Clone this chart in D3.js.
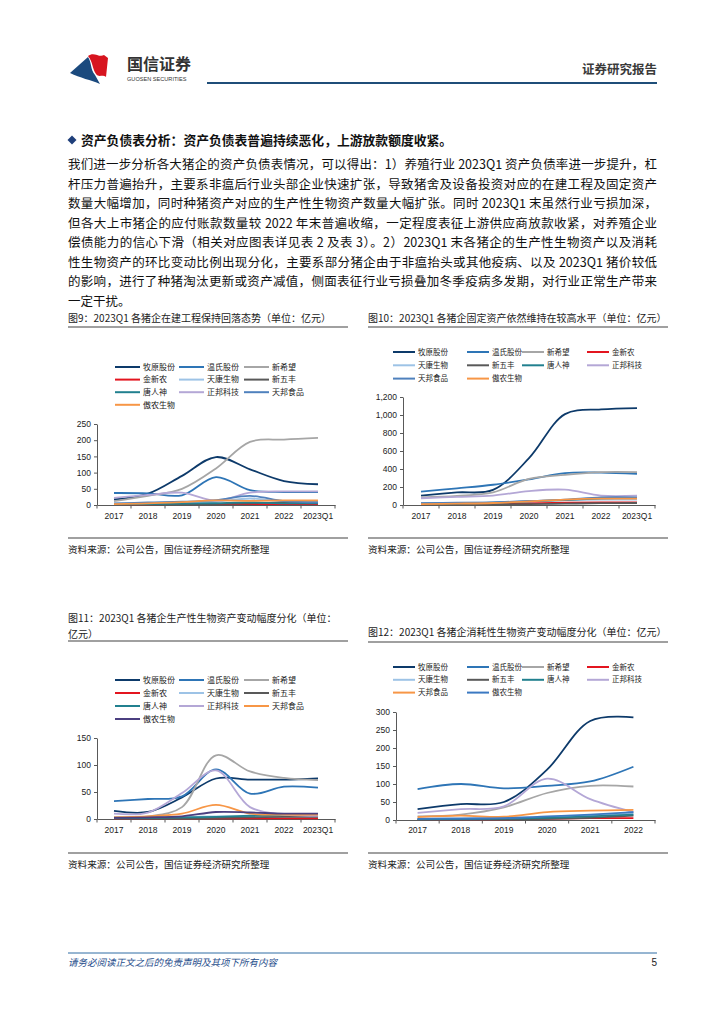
<!DOCTYPE html>
<html>
<head>
<meta charset="utf-8">
<script src="https://cdn.jsdelivr.net/npm/d3@7"></script>
<style>
  body { margin: 0; background: #fff; }
  #page { position: relative; width: 724px; height: 1024px; overflow: hidden;
          font-family: "Noto Sans CJK SC", "Noto Sans", sans-serif; }
  #page svg { position: absolute; left: 0; top: 0; }
  .para { position: absolute; left: 68px; width: 589px; font-size: 12.5px; color: #111; }
  .para div { height: 19.5px; line-height: 19.5px; text-align: justify; text-align-last: justify; }
  .para div.last { text-align-last: left; }
</style>
</head>
<body>
<div id="page"></div>
<script>
// ---- data ----
const years = ['2017', '2018', '2019', '2020', '2021', '2022', '2023Q1'];
const years12 = ['2017', '2018', '2019', '2020', '2021', '2022'];
const companies = ['牧原股份', '温氏股份', '新希望', '金新农', '天康生物', '新五丰', '唐人神', '正邦科技', '天邦食品', '傲农生物'];

// 图9 在建工程（亿元），行顺序同 companies
const cipValues = [
  [17, 35, 90, 148, 110, 74, 64],
  [37, 36, 30, 86, 46, 40, 40],
  [12, 28, 50, 113, 195, 202, 207],
  [2, 2, 3, 3, 3, 3, 3],
  [4, 5, 7, 10, 20, 10, 8],
  [1, 1, 2, 3, 5, 8, 8],
  [2, 3, 4, 6, 8, 5, 5],
  [22, 31, 38, 13, 38, 42, 42],
  [5, 8, 10, 15, 28, 12, 8],
  [3, 5, 9, 14, 13, 14, 14]
];

// 图10 固定资产（亿元）
const fixedValues = [
  [105, 140, 168, 520, 1010, 1062, 1077],
  [148, 185, 225, 285, 355, 360, 345],
  [85, 100, 140, 290, 335, 365, 365],
  [10, 12, 15, 20, 25, 28, 28],
  [20, 22, 28, 40, 55, 60, 60],
  [5, 6, 8, 10, 15, 20, 22],
  [15, 18, 25, 40, 55, 75, 80],
  [75, 90, 105, 155, 170, 105, 105],
  [20, 25, 30, 45, 60, 85, 85],
  [10, 15, 22, 40, 60, 70, 70]
];

// 图11 生产性生物资产（亿元）
const productiveValues = [
  [15, 13, 40, 75, 73, 73, 75],
  [33, 37, 42, 92, 47, 60, 58],
  [4, 5, 22, 118, 88, 76, 72],
  [1, 1, 1, 1, 1, 1, 1],
  [3, 3, 4, 5, 5, 6, 6],
  [1, 1, 1, 2, 3, 4, 4],
  [2, 2, 3, 4, 6, 8, 7],
  [10, 12, 48, 90, 22, 8, 6],
  [3, 5, 10, 26, 10, 8, 8],
  [2, 3, 5, 13, 12, 10, 10]
];

// 图12 消耗性生物资产（亿元）
const consumableValues = [
  [30, 44, 50, 140, 275, 285],
  [86, 100, 88, 95, 107, 148],
  [10, 15, 35, 75, 95, 93],
  [2, 2, 2, 3, 5, 5],
  [4, 5, 6, 8, 12, 18],
  [1, 1, 2, 3, 6, 12],
  [2, 3, 4, 6, 10, 15],
  [20, 30, 38, 115, 58, 22],
  [8, 12, 9, 22, 26, 28],
  [3, 4, 5, 10, 15, 22]
];

const ticks9 = [0, 50, 100, 150, 200, 250];
const ticks10 = [0, 200, 400, 600, 800, 1000, 1200];
const ticks11 = [0, 50, 100, 150];
const ticks12 = [0, 50, 100, 150, 200, 250, 300];

const paragraph = [
  '我们进一步分析各大猪企的资产负债表情况，可以得出：1）养殖行业 2023Q1 资产负债率进一步提升，杠',
  '杆压力普遍抬升，主要系非瘟后行业头部企业快速扩张，导致猪舍及设备投资对应的在建工程及固定资产',
  '数量大幅增加，同时种猪资产对应的生产性生物资产数量大幅扩张。同时 2023Q1 末虽然行业亏损加深，',
  '但各大上市猪企的应付账款数量较 2022 年末普遍收缩，一定程度表征上游供应商放款收紧，对养殖企业',
  '偿债能力的信心下滑（相关对应图表详见表 2 及表 3）。2）2023Q1 末各猪企的生产性生物资产以及消耗',
  '性生物资产的环比变动比例出现分化，主要系部分猪企由于非瘟抬头或其他疫病、以及 2023Q1 猪价较低',
  '的影响，进行了种猪淘汰更新或资产减值，侧面表征行业亏损叠加冬季疫病多发期，对行业正常生产带来',
  '一定干扰。'
];

// ---- colours ----
const navy = '#0d3a6a', blue = '#2e75b6', gray = '#a6a6a6', red = '#e3151f', light = '#9dc3e6',
      dark = '#595959', teal = '#21808f', lav = '#b4a7d6', steel = '#4f81bd', orange = '#f79646',
      purple = '#4b3f80', blue2 = '#3b79c2';
const colors9 = [navy, blue, gray, red, light, dark, teal, lav, steel, orange];
const colors11 = [navy, blue, gray, red, light, dark, teal, lav, orange, purple];
const colors12 = [navy, blue, gray, red, light, dark, teal, lav, orange, blue2];

const numFont = '"Liberation Sans", Arial, sans-serif';
const page = d3.select('#page');
const svg = page.append('svg').attr('width', 724).attr('height', 1024);

// ---- header ----
svg.append('path').attr('fill', '#1b4a7e')
  .attr('d', 'M70,73 L88,57 C92,63 90,69 95,75 L100,84 C91,80 80,78 70,73 Z');
svg.append('path').attr('fill', '#d7141f')
  .attr('d', 'M88,56 C94,51 99,58 104,55 L108,58 L106,77 C102,74 99,78 96,74 C92,68 93,62 88,56 Z');
svg.append('text').attr('x', 127).attr('y', 70).text('国信证券')
  .style('font-size', '16px').style('font-weight', 'bold').attr('fill', '#333');
svg.append('text').attr('x', 127).attr('y', 81).text('GUOSEN SECURITIES')
  .style('font-size', '5.6px').style('font-family', numFont).attr('fill', '#333');
svg.append('text').attr('x', 657).attr('y', 74).attr('text-anchor', 'end').text('证券研究报告')
  .style('font-size', '12.5px').style('font-weight', 'bold').attr('fill', '#3a3a3a');
svg.append('line').attr('x1', 207).attr('x2', 657).attr('y1', 83).attr('y2', 83)
  .attr('stroke', '#1f4e79').attr('stroke-width', 2);

// ---- heading and paragraph ----
svg.append('path').attr('fill', '#1f3f7a').attr('d', 'M72,135.5 L76.5,140 L72,144.5 L67.5,140 Z');
svg.append('text').attr('x', 81).attr('y', 144.5).text('资产负债表分析：资产负债表普遍持续恶化，上游放款额度收紧。')
  .style('font-size', '12.8px').style('font-weight', 'bold').attr('fill', '#111');

const para = page.append('div').attr('class', 'para').style('top', '154px');
para.selectAll('div').data(paragraph).enter().append('div')
  .classed('last', (d, i) => i === paragraph.length - 1)
  .text(d => d);

// ---- footer ----
svg.append('line').attr('x1', 68).attr('x2', 657).attr('y1', 953).attr('y2', 953)
  .attr('stroke', '#2e6da4').attr('stroke-width', 1);
svg.append('text').attr('x', 68).attr('y', 966).text('请务必阅读正文之后的免责声明及其项下所有内容')
  .style('font-size', '9.5px').style('font-style', 'italic').attr('fill', '#1f4e8c');
svg.append('text').attr('x', 657).attr('y', 966).attr('text-anchor', 'end').text('5')
  .style('font-size', '10px').style('font-family', numFont).attr('fill', '#222');

/**
 * Draws one figure: title, legend, axes, smoothed lines, source note
 */
function drawChart(o) {
  let g = svg.append('g');

  // title + rule
  o.title.forEach((t, i) => {
    g.append('text').attr('x', o.left).attr('y', o.titleY + i * 16).text(t)
      .style('font-size', '10px').attr('fill', '#222');
  });
  g.append('line').attr('x1', o.left).attr('x2', o.right)
    .attr('y1', o.ruleY).attr('y2', o.ruleY).attr('stroke', '#808080').attr('stroke-width', 1.3);

  // legend
  companies.forEach((c, i) => {
    let col = i % o.legendX.length;
    let row = Math.floor(i / o.legendX.length);
    let lx = o.legendX[col];
    let ly = o.legendY + row * o.legendDy;
    g.append('line').attr('x1', lx).attr('x2', lx + o.legendLen).attr('y1', ly).attr('y2', ly)
      .attr('stroke', o.colors[i]).attr('stroke-width', 2);
    g.append('text').attr('x', lx + o.legendLen + 3).attr('y', ly).attr('dy', '0.35em').text(c)
      .style('font-size', o.legendFont + 'px').attr('fill', '#222');
  });

  let x = d3.scaleBand().domain(o.cats).range(o.xRange);
  let y = d3.scaleLinear().domain([0, o.ticks[o.ticks.length - 1]]).range(o.yRange);

  // x axis with ticks on category boundaries
  let xg = g.append('g').attr('transform', 'translate(0,' + y(0) + ')')
    .call(d3.axisBottom(x).tickSize(0).tickPadding(o.xPad));
  xg.select('.domain').attr('stroke', '#595959');
  xg.selectAll('text').style('font-size', '8.5px').style('font-family', numFont).attr('fill', '#222');
  let bounds = d3.range(o.cats.length + 1).map(i => o.xRange[0] + i * x.step());
  g.selectAll('line.bt').data(bounds).enter().append('line')
    .attr('x1', d => d).attr('x2', d => d).attr('y1', y(0)).attr('y2', y(0) + 3.5)
    .attr('stroke', '#595959');

  // y axis
  let yg = g.append('g').attr('transform', 'translate(' + o.xRange[0] + ',0)')
    .call(d3.axisLeft(y).tickValues(o.ticks).tickSize(3).tickSizeOuter(0).tickPadding(3)
      .tickFormat(d3.format(',')));
  yg.select('.domain').attr('stroke', '#595959');
  yg.selectAll('.tick line').attr('stroke', '#595959');
  yg.selectAll('text').style('font-size', '8.5px').style('font-family', numFont).attr('fill', '#222');

  // smoothed lines
  let line = d3.line()
    .x((d, i) => x(o.cats[i]) + x.bandwidth() / 2)
    .y(d => y(d))
    .curve(d3.curveCatmullRom.alpha(0.5));
  g.selectAll('path.series').data(o.values).enter().append('path')
    .attr('class', 'series')
    .attr('d', d => line(d))
    .attr('fill', 'none')
    .attr('stroke', (d, i) => o.colors[i])
    .attr('stroke-width', 1.8);

  // source
  g.append('line').attr('x1', o.left).attr('x2', o.right)
    .attr('y1', o.srcY - 11).attr('y2', o.srcY - 11).attr('stroke', '#808080').attr('stroke-width', 1.3);
  g.append('text').attr('x', o.left).attr('y', o.srcY + 3.5).text('资料来源：公司公告，国信证券经济研究所整理')
    .style('font-size', '9.6px').attr('fill', '#222');
}

drawChart({
  title: ['图9：2023Q1 各猪企在建工程保持回落态势（单位：亿元）'], titleY: 322, ruleY: 327,
  left: 68, right: 348, legendX: [115, 179, 244], legendY: 367, legendDy: 12.6, legendLen: 25, legendFont: 8,
  cats: years, values: cipValues, colors: colors9, xRange: [97, 335], yRange: [505, 424], ticks: ticks9,
  xPad: 8, srcY: 549
});
drawChart({
  title: ['图10：2023Q1 各猪企固定资产依然维持在较高水平（单位：亿元）'], titleY: 322, ruleY: 327,
  left: 368, right: 668, legendX: [393, 467, 522, 587], legendY: 352, legendDy: 13.3, legendLen: 22, legendFont: 7.5,
  cats: years, values: fixedValues, colors: colors9, xRange: [403, 655], yRange: [505, 397], ticks: ticks10,
  xPad: 8, srcY: 549
});
drawChart({
  title: ['图11：2023Q1 各猪企生产性生物资产变动幅度分化（单位：', '亿元）'], titleY: 622, ruleY: 641,
  left: 68, right: 348, legendX: [115, 179, 244], legendY: 680, legendDy: 13, legendLen: 25, legendFont: 8,
  cats: years, values: productiveValues, colors: colors11, xRange: [97, 335], yRange: [819, 738], ticks: ticks11,
  xPad: 8, srcY: 864
});
drawChart({
  title: ['图12：2023Q1 各猪企消耗性生物资产变动幅度分化（单位：亿元）'], titleY: 636, ruleY: 642,
  left: 368, right: 668, legendX: [393, 467, 522, 587], legendY: 667, legendDy: 12.8, legendLen: 22, legendFont: 7.5,
  cats: years12, values: consumableValues, colors: colors12, xRange: [396, 655], yRange: [820, 712], ticks: ticks12,
  xPad: 7, srcY: 864
});
</script>
</body>
</html>
